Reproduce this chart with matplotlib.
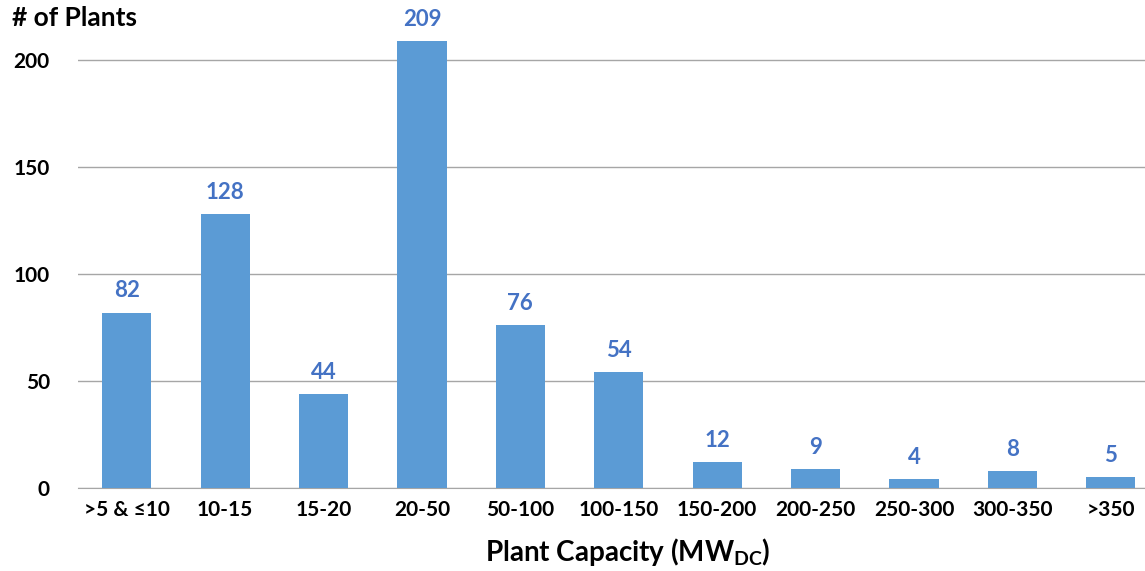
import matplotlib
matplotlib.use('Agg')
import matplotlib.pyplot as plt

# Dữ liệu
categories = ['>5 & ≤10', '10-15', '15-20', '20-50', '50-100', '100-150',
              '150-200', '200-250', '250-300', '300-350', '>350']
plants = [82, 128, 44, 209, 76, 54, 12, 9, 4, 8, 5]
y_ticks = [0, 50, 100, 150, 200]

plt.rcParams['font.family'] = ['Lato', 'DejaVu Sans']
plt.rcParams['mathtext.fontset'] = 'custom'
plt.rcParams['mathtext.rm'] = 'Lato:bold'

fig = plt.figure(figsize=(11.45, 5.71), dpi=100)
ax = fig.add_axes([0.0677, 0.1454, 0.9454, 0.8245])

x = list(range(len(categories)))
bars = ax.bar(x, plants, width=0.5, color='#5B9BD5', zorder=3)

# Nhãn giá trị trên cột
for xi, v in zip(x, plants):
    ax.annotate(str(v), (xi, v), xytext=(0, 8), textcoords='offset points',
                ha='center', va='bottom', fontsize=16, fontweight='bold',
                color='#4472C4')

ax.set_xlim(-0.5, 10.5)
ax.set_ylim(0, 220)
ax.set_yticks(y_ticks)
ax.set_xticks(x)
ax.set_xticklabels(categories, fontsize=15, fontweight='bold')
ax.set_yticklabels([str(t) for t in y_ticks], fontsize=15, fontweight='bold')
ax.tick_params(axis='both', length=0)
ax.tick_params(axis='y', pad=20)
ax.tick_params(axis='x', pad=9)

ax.grid(axis='y', color='#A6A6A6', linewidth=1, zorder=0)
for s in ['top', 'right', 'left']:
    ax.spines[s].set_visible(False)
ax.spines['bottom'].set_color('#A6A6A6')

fig.text(12 / 1145, 1 - 18 / 571, '# of Plants', fontsize=19, fontweight='bold',
         ha='left', va='center')
fig.text(628 / 1145, 1 - 552 / 571, r'Plant Capacity ($\mathrm{MW_{DC}}$)',
         fontsize=20, fontweight='bold', ha='center', va='center')

fig.savefig('out.png', dpi=100)
